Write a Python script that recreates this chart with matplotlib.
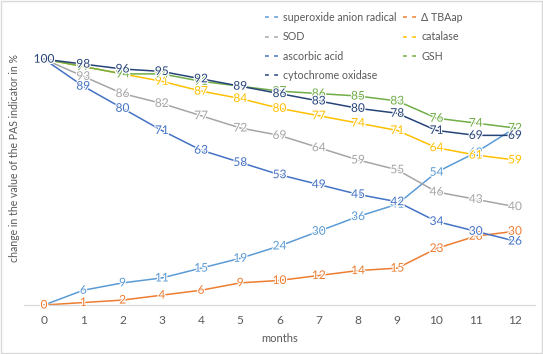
'''

  PAS indicators over 12 months

'''

import numpy as np
from matplotlib import pyplot as plt
from matplotlib.lines import Line2D
from matplotlib.patches import Rectangle
import matplotlib.patheffects as pe

plt.rcParams['font.family'] = ['Lato', 'DejaVu Sans']

# Data

months = list(range(13))
superoxide = [0, 6, 9, 11, 15, 19, 24, 30, 36, 41, 54, 62, 72]
tbaap = [0, 1, 2, 4, 6, 9, 10, 12, 14, 15, 23, 28, 30]
sod = [100, 93, 86, 82, 77, 72, 69, 64, 59, 55, 46, 43, 40]
catalase = [100, 97, 94, 91, 87, 84, 80, 77, 74, 71, 64, 61, 59]
ascorbic = [100, 89, 80, 71, 63, 58, 53, 49, 45, 42, 34, 30, 26]
gsh = [100, 97, 94, 94, 91, 89, 87, 86, 85, 83, 76, 74, 72]
cytochrome = [100, 98, 96, 95, 92, 89, 86, 83, 80, 78, 71, 69, 69]

names = ['superoxide anion radical', '\u0394 TBAap', 'SOD', 'catalase',
         'ascorbic acid', 'GSH', 'cytochrome oxidase']
series = [superoxide, tbaap, sod, catalase, ascorbic, gsh, cytochrome]
colors = ['#5B9BD5', '#ED7D31', '#A5A5A5', '#FFC000', '#4472C4', '#70AD47', '#264478']

txt = '#595959'

fig = plt.figure(figsize=(5.43, 3.54), dpi=100)
ax = fig.add_axes([0.045, 0.1384, 0.9395, 0.8334])

for vals, col in zip(series, colors):
    ax.plot(months, vals, '-', color=col, linewidth=1.1, zorder=2)
for vals, col in zip(series, colors):
    for m, v in zip(months, vals):
        ax.text(m, v, str(v), color=col, fontsize=8.6, ha='center', va='center', zorder=3,
                path_effects=[pe.withStroke(linewidth=1.6, foreground='white')])

ax.set_xlim(-0.5, 12.5)
ax.set_ylim(0, 120)
ax.set_xticks(months)
ax.set_yticks([])
for s in ['top', 'right', 'left']:
    ax.spines[s].set_visible(False)
ax.spines['bottom'].set_color('#D9D9D9')
ax.spines['bottom'].set_linewidth(0.9)
ax.tick_params(axis='x', length=0, pad=7, labelsize=8.6, labelcolor=txt)
ax.set_xlabel('months', fontsize=8, color=txt, labelpad=5)
fig.text(15/543, 1-158/354, 'change in the value of the PAS indicator in %',
         rotation=90, ha='center', va='center', fontsize=7.6, color=txt)

# legend, Excel fills rows first
order = [0, 2, 4, 6, 1, 3, 5]
handles = [Line2D([0], [0], color=colors[i], linewidth=1.1, linestyle=(0, (2.5, 3.5))) for i in order]
labels = [names[i] for i in order]
leg = fig.legend(handles, labels, ncol=2, loc='upper left',
                 bbox_to_anchor=(265/543, 1-12/354), frameon=False, fontsize=7.7,
                 handlelength=1.3, handletextpad=0.4, columnspacing=0.6,
                 labelspacing=0.78, borderaxespad=0, borderpad=0)
for t in leg.get_texts():
    t.set_color(txt)

fig.patches.append(Rectangle((0.002, 0.003), 0.996, 0.994, transform=fig.transFigure,
                             fill=False, edgecolor='#D9D9D9', linewidth=1))

plt.savefig('out.png', dpi=100)
